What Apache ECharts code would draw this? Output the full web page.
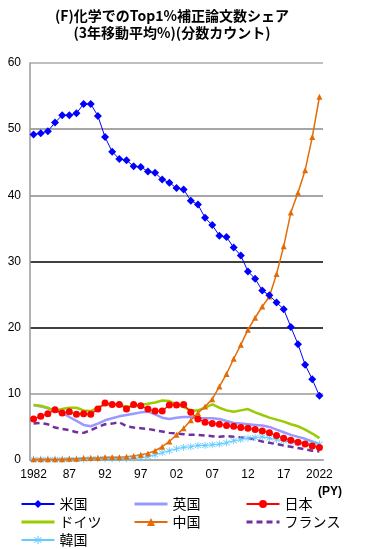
<!DOCTYPE html>
<html>
<head>
<meta charset="utf-8">
<script src="https://cdn.jsdelivr.net/npm/echarts@6/dist/echarts.min.js"></script>
<style>
  html, body { margin: 0; padding: 0; background: #fff; }
  #chart { width: 376px; height: 549px; }
</style>
</head>
<body>
<div id="chart"></div>
<script>
// 1982 - 2022
const years = [];
for (let y = 1982; y <= 2022; y++) years.push(String(y));
const tickLabels = {'1982': '1982', '1987': '87', '1992': '92', '1997': '97', '2002': '02',
  '2007': '07', '2012': '12', '2017': '17', '2022': '2022'};

const usData = [49.2, 49.4, 49.7, 51.0, 52.1, 52.1, 52.4, 53.8, 53.8, 52.0,
  48.8, 46.6, 45.5, 45.3, 44.4, 44.3, 43.6, 43.4, 42.4, 41.9,
  41.1, 40.9, 39.2, 38.6, 36.6, 35.5, 33.9, 33.7, 32.1, 30.9,
  28.5, 27.4, 25.6, 24.9, 23.8, 22.8, 20.1, 17.5, 14.4, 12.2, 9.7];
const ukData = [8.3, 8.1, 7.8, 7.4, 7.1, 6.5, 5.9, 5.3, 5.1, 5.5,
  6.0, 6.3, 6.6, 6.8, 7.0, 7.2, 7.3, 6.9, 6.4, 6.2,
  6.4, 6.5, 6.5, 6.3, 6.3, 6.3, 6.2, 5.9, 5.6, 5.5,
  5.4, 5.3, 5.2, 5.0, 4.6, 4.2, 3.8, 3.5, 3.2, 2.8, 2.4];
const jpData = [6.2, 6.6, 7.0, 7.6, 7.1, 7.3, 6.9, 7.0, 6.9, 7.7,
  8.6, 8.4, 8.4, 7.7, 8.4, 8.2, 7.7, 7.4, 7.4, 8.3,
  8.3, 8.4, 7.2, 6.2, 5.7, 5.5, 5.4, 5.2, 5.1, 4.9,
  4.8, 4.6, 4.4, 4.1, 3.7, 3.3, 3.0, 2.7, 2.4, 2.1, 1.9];
const deData = [8.3, 8.2, 7.9, 7.4, 7.7, 7.9, 7.9, 7.5, 7.4, 7.9,
  8.4, 8.4, 8.3, 8.1, 8.1, 8.3, 8.5, 8.7, 9.0, 8.9,
  8.4, 8.0, 7.5, 7.5, 7.9, 8.4, 7.9, 7.5, 7.3, 7.5,
  7.7, 7.2, 6.8, 6.4, 6.1, 5.8, 5.4, 5.1, 4.6, 4.0, 3.3];
const cnData = [0.1, 0.1, 0.1, 0.1, 0.1, 0.2, 0.2, 0.3, 0.3, 0.3,
  0.4, 0.4, 0.4, 0.5, 0.6, 0.8, 1.0, 1.4, 2.0, 2.8,
  3.8, 4.8, 6.0, 7.1, 8.1, 9.2, 11.1, 13.0, 15.3, 17.4,
  19.7, 21.5, 23.2, 24.7, 28.1, 32.3, 37.4, 40.4, 43.8, 48.8, 54.9];
const frData = [5.5, 5.6, 5.4, 4.9, 4.7, 4.5, 4.2, 4.1, 4.5, 5.0,
  5.4, 5.5, 5.7, 5.1, 4.9, 4.8, 4.7, 4.5, 4.3, 4.1,
  4.0, 3.9, 3.8, 3.8, 3.7, 3.6, 3.5, 3.6, 3.5, 3.4,
  3.3, 3.1, 2.8, 2.6, 2.4, 2.2, 2.0, 1.8, 1.6, 1.4, 1.3];
const krData = [0.1, 0.1, 0.1, 0.1, 0.1, 0.1, 0.1, 0.1, 0.2, 0.2,
  0.2, 0.2, 0.2, 0.2, 0.3, 0.3, 0.5, 0.8, 1.1, 1.4,
  1.7, 1.9, 2.0, 2.2, 2.2, 2.3, 2.4, 2.6, 2.9, 3.1,
  3.3, 3.4, 3.5, 3.3, 3.1, 2.9, 2.7, 2.6, 2.5, 2.5, 2.4];

// excel風のアスタリスク
const asterisk = 'path://M-1,-10L1,-10L1,10L-1,10Z' +
  'M-7.7,-6.3L-6.3,-7.7L7.7,6.3L6.3,7.7Z' +
  'M-7.7,6.3L6.3,-7.7L7.7,-6.3L-6.3,7.7Z';

const jpFont = '"Noto Sans CJK JP", sans-serif';
const numFont = '"Liberation Sans", Arial, sans-serif';

const chart = echarts.init(document.getElementById('chart'));

// 凡例は列ごとに縦並び
const legendStyle = {
  top: 496,
  orient: 'vertical',
  itemWidth: 33,
  itemHeight: 10,
  itemGap: 2,
  padding: 0,
  textStyle: { fontFamily: jpFont, fontSize: 14, lineHeight: 16, color: '#000' }
};
// マーカーなしの系列は凡例でも線だけ（太線）
const lineOnly = (name) => ({ name: name, itemStyle: { opacity: 0 }, lineStyle: { width: 3 } });

chart.setOption({
  animation: false,
  graphic: [
    {
      type: 'text', x: 172, y: 9,
      style: { text: '(F)化学でのTop1%補正論文数シェア', align: 'center', fill: '#000',
        font: 'bold 14px ' + jpFont }
    },
    {
      type: 'text', x: 172, y: 26,
      style: { text: '(3年移動平均%)(分数カウント)', align: 'center', fill: '#000',
        font: 'bold 14px ' + jpFont }
    },
    {
      type: 'text', x: 330, y: 486,
      style: { text: '(PY)', align: 'center', fill: '#000', font: 'bold 12px ' + numFont }
    }
  ],
  grid: { left: 30, right: 53, top: 63, bottom: 89 },
  legend: [
    Object.assign({ left: 20, data: ['米国', lineOnly('ドイツ'), '韓国'] }, legendStyle),
    Object.assign({ left: 133, data: [lineOnly('英国'), '中国'] }, legendStyle),
    Object.assign({ left: 245, data: ['日本', lineOnly('フランス')] }, legendStyle)
  ],
  xAxis: {
    type: 'category',
    data: years,
    boundaryGap: true,
    axisLine: { lineStyle: { color: '#aaa', width: 2 } },
    axisTick: { show: false },
    axisLabel: {
      interval: 0,
      margin: 9,
      color: '#000',
      fontFamily: numFont,
      fontSize: 12,
      formatter: (v) => tickLabels[v] || ''
    }
  },
  yAxis: {
    type: 'value',
    min: 0,
    max: 60,
    interval: 10,
    axisLine: { show: true, lineStyle: { color: '#999', width: 1.5 } },
    axisTick: { show: false },
    axisLabel: { color: '#000', fontFamily: numFont, fontSize: 12, margin: 9 },
    splitLine: {
      lineStyle: {
        color: ['#aaa', '#999', '#000', '#000', '#888', '#888', '#aaa'],
        width: 1.5
      }
    }
  },
  series: [
    {
      name: '英国', type: 'line', data: ukData, showSymbol: false, symbol: 'none',
      itemStyle: { color: '#9999ff' }, lineStyle: { color: '#9999ff', width: 2.5 }
    },
    {
      name: 'フランス', type: 'line', data: frData, showSymbol: false, symbol: 'none',
      itemStyle: { color: '#7030a0' }, lineStyle: { color: '#7030a0', width: 2.5, type: [6, 4] }
    },
    {
      name: '韓国', type: 'line', data: krData, symbol: asterisk, symbolSize: 7,
      itemStyle: { color: '#66ccff' }, lineStyle: { color: '#66ccff', width: 1.2 }
    },
    {
      name: 'ドイツ', type: 'line', data: deData, showSymbol: false, symbol: 'none',
      itemStyle: { color: '#99cc00' }, lineStyle: { color: '#99cc00', width: 2.5 }
    },
    {
      name: '日本', type: 'line', data: jpData, symbol: 'circle', symbolSize: 7,
      itemStyle: { color: '#ff0000' }, lineStyle: { color: '#ff0000', width: 1.2 }
    },
    {
      name: '中国', type: 'line', data: cnData, symbol: 'triangle', symbolSize: 6,
      itemStyle: { color: '#e36c09' }, lineStyle: { color: '#e36c09', width: 1.5 }
    },
    {
      name: '米国', type: 'line', data: usData, symbol: 'diamond', symbolSize: 8,
      itemStyle: { color: '#0000ff' }, lineStyle: { color: '#0000ff', width: 1 }
    }
  ]
});
</script>
</body>
</html>
